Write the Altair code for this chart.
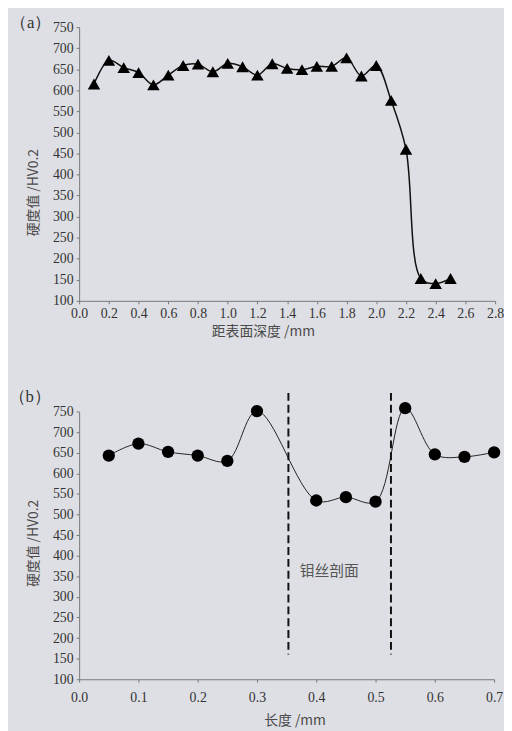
import altair as alt
import pandas as pd

# Panel (a)
depth_a = [0.1, 0.2, 0.3, 0.4, 0.5, 0.6, 0.7, 0.8, 0.9, 1.0, 1.1, 1.2, 1.3,
           1.4, 1.5, 1.6, 1.7, 1.8, 1.9, 2.0, 2.1, 2.2, 2.3, 2.4, 2.5]
hv_a = [615, 671, 654, 642, 613, 636, 659, 662, 644, 664, 656, 636, 663,
        652, 649, 657, 657, 677, 634, 659, 576, 460, 153, 141, 153]
xticks_a = [0.0, 0.2, 0.4, 0.6, 0.8, 1.0, 1.2, 1.4, 1.6, 1.8, 2.0, 2.2, 2.4, 2.6, 2.8]

# Panel (b)
len_b = [0.05, 0.1, 0.15, 0.2, 0.25, 0.3, 0.4, 0.45, 0.5, 0.55, 0.6, 0.65, 0.7]
hv_b = [643, 672, 652, 643, 630, 751, 534, 542, 531, 758, 646, 640, 651]
xticks_b = [0.0, 0.1, 0.2, 0.3, 0.4, 0.5, 0.6, 0.7]
bounds_x = [0.353, 0.526]
bounds_y = [795, 160]
region_label = ["钼丝剖面"]
region_pos = [0.372, 362]

yticks = [100, 150, 200, 250, 300, 350, 400, 450, 500, 550, 600, 650, 700, 750]
ytitle = "硬度值 /HV0.2"

df_a = pd.DataFrame({"x": depth_a, "y": hv_a})
df_b = pd.DataFrame({"x": len_b, "y": hv_b})
df_r = pd.DataFrame({"x": bounds_x, "y": [bounds_y[0]] * 2, "y2": [bounds_y[1]] * 2})
df_t = pd.DataFrame({"x": [region_pos[0]], "y": [region_pos[1]], "t": region_label})

SERIF = "'Liberation Serif', 'Times New Roman', serif"
CJK = "Noto Sans CJK SC"

ysc = alt.Scale(domain=[100, 750], nice=False, zero=False)

common = dict(labelFont=SERIF, labelFontSize=14, labelColor="#333",
              labelOverlap=False, labelFlush=False, domainColor="#777",
              tickColor="#777", tickSize=3, grid=False,
              titleFont=CJK, titleFontSize=14, titleFontWeight="normal",
              titleColor="#4a4a4a")


def yaxis(title_y):
    return alt.Axis(values=yticks, title=ytitle, titlePadding=12, titleY=title_y,
                    labelPadding=3, **common)


# ---- top chart
xa = alt.X("x:Q", scale=alt.Scale(domain=[0, 2.8], nice=False),
           axis=alt.Axis(values=xticks_a, format=".1f", title="距表面深度 /mm",
                         titleX=186, titlePadding=4, labelPadding=3, **common))
ya = alt.Y("y:Q", scale=ysc, axis=yaxis(167))

base_a = alt.Chart(df_a)
line_a = base_a.mark_line(interpolate="catmull-rom", color="#111", strokeWidth=1.5).encode(x=xa, y=ya)
pts_a = base_a.mark_point(shape="triangle-up", filled=True, color="#000", size=160, opacity=1).encode(x=xa, y=ya)
lab_a = alt.Chart(pd.DataFrame({"t": ["（a）"]})).mark_text(
    font=SERIF, fontSize=17, color="#333", align="center", baseline="middle"
).encode(text="t:N", x=alt.value(-49), y=alt.value(-4))
top = alt.layer(line_a, pts_a, lab_a).properties(width=421, height=277)

# ---- bottom chart
xb = alt.X("x:Q", scale=alt.Scale(domain=[0, 0.7], nice=False),
           axis=alt.Axis(values=xticks_b, format=".1f", title="长度 /mm",
                         titleX=218, titlePadding=9, labelPadding=9, **common))
yb = alt.Y("y:Q", scale=ysc, axis=yaxis(133))

base_b = alt.Chart(df_b)
line_b = base_b.mark_line(interpolate="catmull-rom", color="#222", strokeWidth=1).encode(x=xb, y=yb)
pts_b = base_b.mark_point(shape="circle", filled=True, color="#000", size=155, opacity=1).encode(x=xb, y=yb)
rules = alt.Chart(df_r).mark_rule(color="#111", strokeWidth=2, strokeDash=[8, 4]).encode(
    x=xb, y=yb, y2="y2:Q")
txt = alt.Chart(df_t).mark_text(font=CJK, fontSize=15, color="#555", align="left",
                                baseline="middle").encode(x=xb, y=yb, text="t:N")
lab_b = alt.Chart(pd.DataFrame({"t": ["（b）"]})).mark_text(
    font=SERIF, fontSize=17, color="#333", align="center", baseline="middle"
).encode(text="t:N", x=alt.value(-50), y=alt.value(-15))
bottom = alt.layer(line_b, pts_b, rules, txt, lab_b).properties(width=420, height=271)

chart = alt.vconcat(top, bottom, spacing=50).configure(
    background="#dedfe4",
    padding={"left": 0, "top": 2, "right": 0, "bottom": 0},
).configure_view(stroke=None)

chart.save("out.html", embed_options={"renderer": "svg", "actions": False})
